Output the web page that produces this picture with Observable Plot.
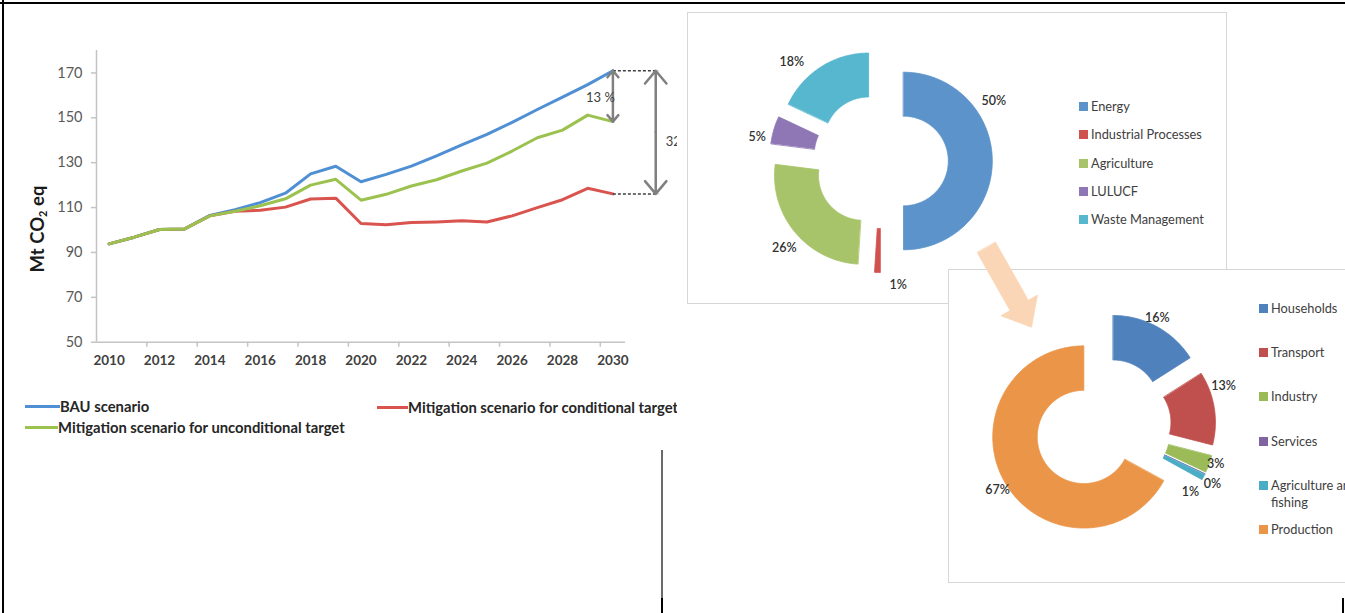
<!DOCTYPE html>
<html>
<head>
<meta charset="utf-8">
<script src="https://cdn.jsdelivr.net/npm/d3@7"></script>
<script src="https://cdn.jsdelivr.net/npm/@observablehq/plot@0.6"></script>
<style>
html,body{margin:0;padding:0;background:#fff;}
#page{position:relative;width:1345px;height:613px;overflow:hidden;background:#fff;font-family:Lato,"Liberation Sans",sans-serif;}
#page svg{max-width:none !important;}
#left{position:absolute;left:0;top:0;width:677px;height:613px;overflow:hidden;}
#left svg{position:absolute;left:0;top:0;}
.ytitle{position:absolute;left:37px;top:229px;transform:translate(-50%,-50%) rotate(-90deg);font-weight:700;font-size:18.5px;color:#1a1a1a;white-space:nowrap;}
.ytitle sub{font-size:11px;vertical-align:-3px;}
.lg1{position:absolute;height:18px;display:flex;align-items:center;font-weight:700;font-size:14.8px;color:#262626;white-space:nowrap;}
.lg1 .sw{height:3px;}
.box{position:absolute;box-sizing:border-box;border:1.5px solid #d6d6d6;background:#fff;}
.box svg{position:absolute;left:-1.5px;top:-1.5px;}
.leg{position:absolute;font-size:12.8px;color:#404040;}
.leg .row{display:flex;align-items:flex-start;}
.leg .sq{width:9px;height:9px;margin-right:3px;margin-top:4px;flex:none;}
.leg .tx{line-height:17px;}
.line{position:absolute;}
#arrow{position:absolute;}
</style>
</head>
<body>
<div id="page">
  <div id="left"><div class="ytitle">Mt CO<sub>2</sub> eq</div></div>
  <div id="box1" class="box"></div>
  <div id="box2" class="box"></div>
  <div id="arrow"></div>
</div>
<script>
// ---------------- DATA ----------------
const years = [2010,2011,2012,2013,2014,2015,2016,2017,2018,2019,2020,2021,2022,2023,2024,2025,2026,2027,2028,2029,2030];
const bau = [93.8,96.8,100.2,100.5,106.5,109.1,112.2,116.4,125.0,128.4,121.5,124.8,128.5,133.0,137.9,142.6,148.0,153.7,159.2,164.8,171.0];
const conditional = [93.8,96.8,100.2,100.5,106.3,108.4,108.8,110.2,113.8,114.2,102.9,102.3,103.3,103.6,104.1,103.6,106.3,110.0,113.5,118.6,116.1];
const unconditional = [93.8,96.8,100.2,100.5,106.3,108.4,110.8,113.9,120.0,122.6,113.3,115.9,119.6,122.4,126.3,129.8,135.2,141.1,144.5,151.2,148.3];
const seriesNames = ["BAU scenario","Mitigation scenario for conditional target","Mitigation scenario for unconditional target"];
const seriesColors = ["#4f8fd3","#d9534f","#9bc24f"];
const yTicks = [50,70,90,110,130,150,170];
const xLabelYears = [2010,2012,2014,2016,2018,2020,2022,2024,2026,2028,2030];

const sectorNames = ["Energy","Industrial Processes","Agriculture","LULUCF","Waste Management"];
const sectorShares = [50,1,26,5,18];
const sectorColors = ["#5b93ca","#d0524f","#a8c46a","#8f76b4","#56b7cf"];

const energyNames = ["Households","Transport","Industry","Services","Agriculture and fishing","Production"];
const energyShares = [16,13,3,0,1,67];
const energyColors = ["#4f81bd","#c0504d","#9bbb59","#8064a2","#4bacc6","#eb9549"];

// ---------------- LINE CHART ----------------
const seriesValues = [bau, conditional, unconditional];
const lineData = seriesNames.flatMap((s, k) => years.map((yr, i) => ({year: yr, value: seriesValues[k][i], series: s})));
const xTickMarks = years.filter(y => y % 2 === 1).map(y => y + 0.5);
const last = years.length - 1;
const annX2 = 2031.7;
const gaps = [
  {x: years[last], top: bau[last], bottom: unconditional[last]},
  {x: annX2, top: bau[last], bottom: conditional[last]}
].map(d => ({...d, mid: (d.top + d.bottom) / 2, label: Math.round((d.top - d.bottom) / d.top * 100) + " %"}));
const dashes = [{y: bau[last]}, {y: conditional[last]}];

const lineChart = Plot.plot({
  width: 700, height: 380,
  marginLeft: 96, marginRight: 75, marginTop: 50, marginBottom: 38.3,
  x: {domain: [2009.5, 2030.5], axis: null},
  y: {domain: [50, 180], axis: null},
  color: {domain: seriesNames, range: seriesColors},
  style: {background: "transparent", fontFamily: "Lato, 'Liberation Sans', sans-serif", overflow: "visible"},
  marks: [
    Plot.ruleX([2009.5], {stroke: "#c4c4c4", strokeWidth: 1.5}),
    Plot.ruleY([50], {stroke: "#c4c4c4", strokeWidth: 1.5}),
    Plot.axisY(yTicks, {anchor: "left", tickSize: 5, tickPadding: 9, fontSize: 14.5, fill: "#595959", stroke: "#c4c4c4", strokeWidth: 1.5, label: null}),
    Plot.axisX(xTickMarks, {anchor: "bottom", tickSize: 5, tickFormat: () => "", stroke: "#c4c4c4", strokeWidth: 1.5, label: null}),
    Plot.axisX(xLabelYears, {anchor: "bottom", tickSize: 0, tickPadding: 13, tickFormat: d => String(d), fontSize: 13.5, fontWeight: "bold", fill: "#404040", label: null}),
    Plot.line(lineData, {x: "year", y: "value", z: "series", stroke: "series", strokeWidth: 3, strokeLinejoin: "round", strokeLinecap: "round"}),
    Plot.link(dashes, {x1: years[last], x2: annX2 + 0.1, y1: "y", y2: "y", stroke: "#404040", strokeWidth: 1.5, strokeDasharray: "3,2"}),
    Plot.arrow(gaps, {x1: "x", x2: "x", y1: "mid", y2: "top", stroke: "#808080", strokeWidth: 2.5, headLength: 10, headAngle: 80}),
    Plot.arrow(gaps, {x1: "x", x2: "x", y1: "mid", y2: "bottom", stroke: "#808080", strokeWidth: 2.5, headLength: 10, headAngle: 80}),
    Plot.text(gaps.slice(0,1), {x: "x", y: "mid", text: "label", textAnchor: "end", dx: 2, dy: 2, fontSize: 13, fill: "#404040"}),
    Plot.text(gaps.slice(1), {x: "x", y: "mid", text: "label", textAnchor: "start", dx: 10, dy: 10, fontSize: 13, fill: "#404040"})
  ]
});
document.getElementById("left").appendChild(lineChart);

// line chart legend (HTML)
const legendSlots = [
  {left: 25, top: 397, sw: 35},
  {left: 377, top: 398, sw: 31},
  {left: 25, top: 418, sw: 33}
];
seriesNames.forEach((s, i) => {
  const el = document.createElement("div");
  el.className = "lg1";
  el.style.left = legendSlots[i].left + "px";
  el.style.top = legendSlots[i].top + "px";
  el.innerHTML = `<span class="sw" style="width:${legendSlots[i].sw}px;background:${seriesColors[i]}"></span><span>${s}</span>`;
  document.getElementById("left").appendChild(el);
});

// ---------------- DONUTS ----------------
function rectGeo(b) {
  return {type: "Polygon", coordinates: [[[b.x0,b.y0],[b.x1,b.y0],[b.x1,b.y1],[b.x0,b.y1],[b.x0,b.y0]]]};
}
function donutFeatures(names, values, colors, c) {
  const total = d3.sum(values);
  let acc = 0;
  return values.map((v, i) => {
    const a0 = acc / total * 2 * Math.PI; acc += v; const a1 = acc / total * 2 * Math.PI;
    const mid = (a0 + a1) / 2;
    const ox = c.cx + c.explode * Math.sin(mid), oy = c.cy - c.explode * Math.cos(mid);
    const n = Math.max(2, Math.ceil((a1 - a0) / (Math.PI / 180)));
    const ring = [];
    for (let k = 0; k <= n; k++) { const a = a0 + (a1 - a0) * k / n; ring.push([ox + c.ro * Math.sin(a), oy - c.ro * Math.cos(a)]); }
    for (let k = n; k >= 0; k--) { const a = a0 + (a1 - a0) * k / n; ring.push([ox + c.ri * Math.sin(a), oy - c.ri * Math.cos(a)]); }
    ring.push(ring[0]);
    const la = c.labelPolar[i][0] * Math.PI / 180, lr = c.labelPolar[i][1];
    return {
      type: "Feature",
      properties: {name: names[i], color: colors[i], label: v + "%", lx: c.cx + lr * Math.sin(la), ly: c.cy - lr * Math.cos(la)},
      geometry: {type: "Polygon", coordinates: [ring]}
    };
  });
}
function donutPlot(box, features) {
  return Plot.plot({
    width: box.x1 - box.x0, height: box.y1 - box.y0, margin: 0,
    projection: {type: "identity", domain: rectGeo(box)},
    color: {type: "identity"},
    style: {background: "transparent", fontFamily: "Lato, 'Liberation Sans', sans-serif", overflow: "visible"},
    marks: [
      Plot.geo(features, {fill: d => d.properties.color, stroke: d => d.properties.color, strokeWidth: 0.8}),
      Plot.text(features, {x: d => d.properties.lx, y: d => d.properties.ly, text: d => d.properties.label, fontSize: 12.5, fill: "#303030", fontWeight: 600})
    ]
  });
}
function legend(names, colors, pos) {
  const el = document.createElement("div");
  el.className = "leg";
  el.style.left = pos.left + "px"; el.style.top = pos.top + "px";
  names.forEach((n, i) => {
    const r = document.createElement("div");
    r.className = "row"; r.style.height = pos.rowH + "px";
    r.innerHTML = `<span class="sq" style="background:${colors[i]}"></span><span class="tx" style="width:${pos.textW}px">${n}</span>`;
    el.appendChild(r);
  });
  return el;
}

const box1 = {x0: 687, y0: 12, x1: 1227, y1: 304};
const box2 = {x0: 948, y0: 269, x1: 1368, y1: 583};
const d1 = {cx: 880.3, cy: 160.5, ro: 88.8, ri: 44.8, explode: 22.7,
  labelPolar: [[62,128],[172,125],[228,130],[281,126],[318,133]]};
const d2 = {cx: 1102.2, cy: 425.3, ro: 91.1, ri: 46.6, explode: 21.9,
  labelPolar: [[27,120.5],[71.6,127.3],[108.9,119.3],[118.1,124.5],[127.2,110],[238.8,123]]};

for (const [id, b] of [["box1", box1], ["box2", box2]]) {
  const el = document.getElementById(id);
  el.style.left = b.x0 + "px"; el.style.top = b.y0 + "px";
  el.style.width = (b.x1 - b.x0) + "px"; el.style.height = (b.y1 - b.y0) + "px";
}
document.getElementById("box1").appendChild(donutPlot(box1, donutFeatures(sectorNames, sectorShares, sectorColors, d1)));
document.getElementById("box1").appendChild(legend(sectorNames, sectorColors, {left: 391, top: 85, rowH: 28.3, textW: 150}));
document.getElementById("box2").appendChild(donutPlot(box2, donutFeatures(energyNames, energyShares, energyColors, d2)));
document.getElementById("box2").appendChild(legend(energyNames, energyColors, {left: 310, top: 29.5, rowH: 44.4, textW: 96}));

// ---------------- BLOCK ARROW ----------------
const arrowSpec = {tail: [985.9, 247], tip: [1031, 326.7], shaftW: 21, headW: 42, headL: 25};
const arrowBox = {x0: 955, y0: 230, x1: 1055, y1: 340};
(function () {
  const {tail, tip, shaftW, headW, headL} = arrowSpec;
  const dx = tip[0] - tail[0], dy = tip[1] - tail[1], len = Math.hypot(dx, dy);
  const ux = dx / len, uy = dy / len, nx = -uy, ny = ux;
  const base = [tip[0] - ux * headL, tip[1] - uy * headL];
  const P = (p, s) => [p[0] + nx * s, p[1] + ny * s];
  const ring = [P(tail, shaftW/2), P(base, shaftW/2), P(base, headW/2), tip, P(base, -headW/2), P(base, -shaftW/2), P(tail, -shaftW/2)];
  ring.push(ring[0]);
  const svg = Plot.plot({
    width: arrowBox.x1 - arrowBox.x0, height: arrowBox.y1 - arrowBox.y0, margin: 0,
    projection: {type: "identity", domain: rectGeo(arrowBox)},
    style: {background: "transparent", overflow: "visible"},
    marks: [Plot.geo([{type: "Polygon", coordinates: [ring]}], {fill: "#fbd6b6", stroke: "#fbd6b6", strokeWidth: 0.8})]
  });
  const el = document.getElementById("arrow");
  el.style.left = arrowBox.x0 + "px"; el.style.top = arrowBox.y0 + "px";
  el.appendChild(svg);
})();

// ---------------- FRAME LINES ----------------
function addLine(x, y, w, h, color) {
  const d = document.createElement("div");
  d.className = "line";
  Object.assign(d.style, {left: x + "px", top: y + "px", width: w + "px", height: h + "px", background: color});
  document.getElementById("page").appendChild(d);
}
addLine(0, 2, 1345, 2, "#000");
addLine(2, 0, 2, 613, "#000");
addLine(661, 450, 2, 148, "#6a6a6a");
addLine(661, 598, 2, 15, "#000");
addLine(1342, 598, 2, 15, "#000");
</script>
</body>
</html>
